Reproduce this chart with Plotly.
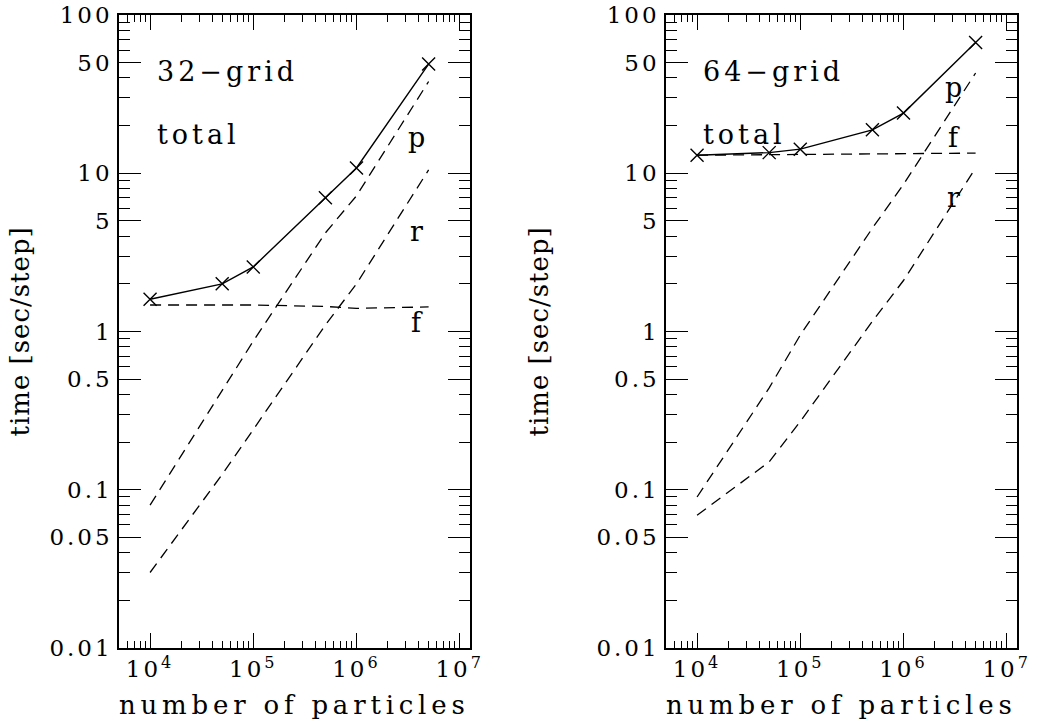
import plotly.graph_objects as go
import numpy as np

# particle counts
n_particles = [1e4, 5e4, 1e5, 5e5, 1e6, 5e6]

# 32-grid timings [sec/step]
total_32 = [1.6, 2.0, 2.56, 7.0, 10.8, 49]
p_32 = [0.08, 0.42, 0.87, 4.2, 7.2, 38]
r_32 = [0.030, 0.125, 0.24, 1.1, 2.0, 10.5]
f_32 = [1.47, 1.47, 1.47, 1.44, 1.40, 1.43]

# 64-grid timings [sec/step]
total_64 = [13.0, 13.5, 14.2, 18.8, 24, 67]
p_64 = [0.09, 0.44, 0.95, 4.5, 8.5, 43]
r_64 = [0.069, 0.15, 0.27, 1.16, 2.1, 10.8]
f_64 = [13.0, 13.1, 13.1, 13.2, 13.3, 13.4]

y_tickvals = [0.01, 0.05, 0.1, 0.5, 1, 5, 10, 50, 100]
y_ticklabels = ["0.01", "0.05", "0.1", "0.5", "1", "5", "10", "50", "100"]
x_tickvals = [1e4, 1e5, 1e6, 1e7]
x_ticklabels = ["10<sup>4</sup>", "10<sup>5</sup>", "10<sup>6</sup>", "10<sup>7</sup>"]

FONT = "DejaVu Serif"
W, H = 1039, 725


def spaced(text, px):
    """Wrap text in a span with widened letter spacing."""
    return f'<span style="letter-spacing:{px}px">{text}</span>'


x_minor = [m * 10 ** e for e in range(3, 8) for m in range(2, 10)]
y_minor = [m * 10 ** e for e in range(-2, 2) for m in (2, 3, 4, 6, 7, 8, 9)]

fig = go.Figure()

panels = [
    ("x", "y", total_32, p_32, r_32, f_32),
    ("x2", "y2", total_64, p_64, r_64, f_64),
]
dash = "11px,7px"
for xa, ya, tot, p, r, f in panels:
    fig.add_trace(go.Scatter(
        x=n_particles, y=tot, xaxis=xa, yaxis=ya, mode="lines+markers",
        line=dict(color="black", width=1.4),
        marker=dict(symbol="x-thin", size=13, line=dict(width=1.4, color="black")),
        showlegend=False))
    for series in (p, r, f):
        fig.add_trace(go.Scatter(
            x=n_particles, y=series, xaxis=xa, yaxis=ya, mode="lines",
            line=dict(color="black", width=1.3, dash=dash),
            showlegend=False))

y_dom = [1 - 648 / H, 1 - 15 / H]
x_doms = [[119 / W, 470 / W], [666 / W, 1017 / W]]

axis_common = dict(
    type="log", showgrid=False, zeroline=False, showline=True, automargin=False,
    linecolor="black", linewidth=1.5, mirror="ticks", ticks="inside",
    tickcolor="black", tickwidth=1.3,
    tickfont=dict(family=FONT, size=23, color="black"),
)

for i, (xa, ya) in enumerate([("xaxis", "yaxis"), ("xaxis2", "yaxis2")]):
    anchor_y = "y" if i == 0 else "y2"
    anchor_x = "x" if i == 0 else "x2"
    fig.update_layout({
        xa: dict(axis_common, domain=x_doms[i], anchor=anchor_y,
                 range=[np.log10(5000), 7.1],
                 tickmode="array", tickvals=x_tickvals,
                 ticktext=[spaced(t, 3) for t in x_ticklabels],
                 ticklen=15,
                 minor=dict(tickmode="array", tickvals=x_minor, ticks="inside",
                            ticklen=7, tickcolor="black", tickwidth=1.3)),
        ya: dict(axis_common, domain=y_dom, anchor=anchor_x,
                 range=[-2, 2],
                 tickmode="array", tickvals=y_tickvals,
                 ticktext=[spaced(t, 3) for t in y_ticklabels],
                 ticklen=22,
                 minor=dict(tickmode="array", tickvals=y_minor, ticks="inside",
                            ticklen=11, tickcolor="black", tickwidth=1.3)),
    })

ann_font = dict(family=FONT, size=27, color="black")
labels = [
    ("x", "y", 4.05, 1.64, "32\u2212grid", "left"),
    ("x", "y", 4.05, 1.242, "total", "left"),
    ("x", "y", 6.60, 1.223, "p", "center"),
    ("x", "y", 6.60, 0.629, "r", "center"),
    ("x", "y", 6.60, 0.060, "f", "center"),
    ("x2", "y2", 4.04, 1.64, "64\u2212grid", "left"),
    ("x2", "y2", 4.04, 1.248, "total", "left"),
    ("x2", "y2", 6.50, 1.539, "p", "center"),
    ("x2", "y2", 6.50, 1.229, "f", "center"),
    ("x2", "y2", 6.50, 0.844, "r", "center"),
]
for xr, yr, lx, ly, txt, anc in labels:
    fig.add_annotation(x=lx, y=ly, xref=xr, yref=yr, text=spaced(txt, 4),
                       showarrow=False, xanchor=anc, yanchor="middle",
                       font=ann_font)

title_font = dict(family=FONT, size=26, color="black")
ytitle_x = [19, 538]
for i in range(2):
    cx = (x_doms[i][0] + x_doms[i][1]) / 2
    fig.add_annotation(x=cx, y=20 / H, xref="paper", yref="paper",
                       text=spaced("number of particles", 4.8), showarrow=False,
                       xanchor="center", yanchor="middle", font=title_font)
    fig.add_annotation(x=ytitle_x[i] / W, y=(y_dom[0] + y_dom[1]) / 2,
                       xref="paper", yref="paper", text=spaced("time [sec/step]", 1),
                       textangle=-90, showarrow=False,
                       xanchor="center", yanchor="middle", font=title_font)

fig.update_layout(
    width=W, height=H, margin=dict(l=0, r=0, t=0, b=0),
    paper_bgcolor="white", plot_bgcolor="white",
)

fig.write_html("out.html")
